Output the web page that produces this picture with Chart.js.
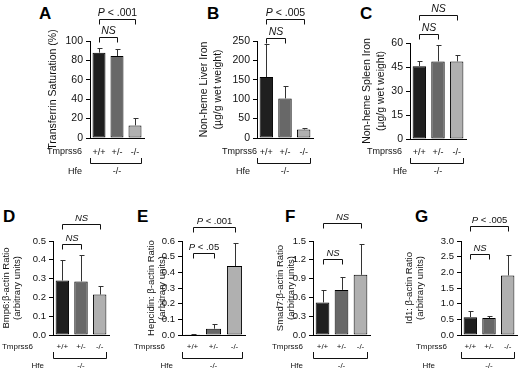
<!DOCTYPE html>
<html lang="en">
<head>
<meta charset="UTF-8">
<title>Tmprss6 / Hfe</title>
<script src="https://cdn.jsdelivr.net/npm/chart.js"></script>
<style>
  body { margin: 0; background: #fff; width: 520px; height: 374px; position: relative; overflow: hidden; }
  canvas { position: absolute; }
  .letra { position: absolute; font: bold 17px "Liberation Sans", Arial, sans-serif; line-height: 17px; color: #000; }
</style>
</head>
<body>
<div class="letra" style="left:39px;top:5px">A</div>
<div class="letra" style="left:207px;top:5px">B</div>
<div class="letra" style="left:360px;top:5px">C</div>
<div class="letra" style="left:3px;top:208px">D</div>
<div class="letra" style="left:137px;top:208px">E</div>
<div class="letra" style="left:285px;top:208px">F</div>
<div class="letra" style="left:415px;top:208px">G</div>

<canvas id="cA"></canvas>
<canvas id="cB"></canvas>
<canvas id="cC"></canvas>
<canvas id="cD"></canvas>
<canvas id="cE"></canvas>
<canvas id="cF"></canvas>
<canvas id="cG"></canvas>

<script>
// ---- dados ----
const genotipos = ['+/+', '+/-', '-/-'];
const rotuloTmprss6 = 'Tmprss6';
const rotuloHfe = 'Hfe';
const genotipoHfe = '-/-';

const satTransf = [88, 84.5, 13];
const satTransfDP = [4.5, 7.5, 7.5];
const sigSatTransf = ['P < .001', 'NS'];

const ferroFigado = [157, 102, 22];
const ferroFigadoDP = [85, 33, 3];
const sigFerroFigado = ['P < .005', 'NS'];

const ferroBaco = [45.5, 48.5, 48.5];
const ferroBacoDP = [3, 10, 4];
const sigFerroBaco = ['NS', 'NS'];

const bmp6 = [0.29, 0.285, 0.215];
const bmp6DP = [0.11, 0.14, 0.045];
const sigBmp6 = ['NS', 'NS'];

const hepcidina = [0.005, 0.04, 0.44];
const hepcidinaDP = [0.004, 0.028, 0.15];
const sigHepcidina = ['P < .001', 'P < .05'];

const smad7 = [0.52, 0.72, 0.96];
const smad7DP = [0.2, 0.2, 0.49];
const sigSmad7 = ['NS', 'NS'];

const id1 = [0.57, 0.54, 1.9];
const id1DP = [0.19, 0.08, 0.65];
const sigId1 = ['P < .005', 'NS'];

const coresBarras = ['#1f1f1f', '#686868', '#b0b0b0'];
const fam = '"Liberation Sans", Arial, sans-serif';

// caixa = [x, y, w, h] da tela; area = [esq, dir, topo, base] do grafico (coords da pagina)
const paineis = [
  { id: 'cA', caixa: [0, 0, 170, 185], area: [90, 144, 41, 138], titulo: ['Transferrin Saturation (%)'], tituloX: 53,
    valores: satTransf, dp: satTransfDP, max: 100, passo: 20, casas: 0, sig: sigSatTransf, sigY: [-22, -4],
    tmpX: 82, hfeX: 82, fonte: 10.5, linha: 14, gen: [14, 20, 25, 34] },
  { id: 'cB', caixa: [170, 0, 170, 185], area: [257, 313, 41, 138], titulo: ['Non-heme Liver Iron', '(µg/g wet weight)'], tituloX: 204,
    valores: ferroFigado, dp: ferroFigadoDP, max: 250, passo: 50, casas: 0, sig: sigFerroFigado, sigY: [-22, -3],
    tmpX: 87, hfeX: 80, fonte: 10.5, linha: 14, gen: [14, 20, 25, 34] },
  { id: 'cC', caixa: [340, 0, 180, 185], area: [410, 466, 43, 139], titulo: ['Non-heme Spleen Iron', '(µg/g wet weight)'], tituloX: 367,
    valores: ferroBaco, dp: ferroBacoDP, max: 60, passo: 15, casas: 0, sig: sigFerroBaco, sigY: [-28, -9],
    tmpX: 62, hfeX: 67, fonte: 10.5, linha: 14, gen: [13, 19, 24, 33] },
  { id: 'cD', caixa: [0, 190, 130, 184], area: [53, 109, 241, 335], titulo: ['Bmp6:β-actin Ratio', '(arbitrary units)'], tituloX: 6,
    valores: bmp6, dp: bmp6DP, max: 0.5, passo: 0.1, casas: 1, sig: sigBmp6, sigY: [-17, 3],
    tmpX: 33, hfeX: 44, fonte: 9.5, linha: 11, gen: [12, 17, 23, 31] },
  { id: 'cE', caixa: [130, 190, 130, 184], area: [182, 245, 241, 335], titulo: ['Hepcidin: β-actin Ratio', '(arbitrary units)'], tituloX: 151,
    valores: hepcidina, dp: hepcidinaDP, max: 0.6, passo: 0.1, casas: 1, sig: sigHepcidina, sigY: [-14, 12],
    tmpX: 35, hfeX: 43, fonte: 9.5, linha: 11, gen: [12, 17, 23, 31] },
  { id: 'cF', caixa: [260, 190, 130, 184], area: [313, 370, 241, 335], titulo: ['Smad7:β-actin Ratio', '(arbitrary units)'], tituloX: 280,
    valores: smad7, dp: smad7DP, max: 1.5, passo: 0.3, casas: 1, sig: sigSmad7, sigY: [-18, 18],
    tmpX: 43, hfeX: 43, fonte: 9.5, linha: 11, gen: [12, 17, 23, 31] },
  { id: 'cG', caixa: [390, 190, 130, 184], area: [461, 517, 241, 335], titulo: ['Id1: β-actin Ratio', '(arbitrary units)'], tituloX: 409,
    valores: id1, dp: id1DP, max: 3.0, passo: 0.5, casas: 1, sig: sigId1, sigY: [-15, 13],
    tmpX: 57, hfeX: 45, fonte: 9.5, linha: 11, gen: [12, 17, 23, 31] }
];

function textoSig(ctx, txt, cx, cy, tam) {
  ctx.textBaseline = 'middle';
  ctx.textAlign = 'left';
  ctx.fillStyle = '#111';
  if (txt.charAt(0) !== 'P') {
    ctx.font = `italic ${tam}px ${fam}`;
    const w = ctx.measureText(txt).width;
    ctx.fillText(txt, cx - w / 2, cy);
    return;
  }
  const resto = txt.slice(1);
  ctx.font = `italic ${tam}px ${fam}`;
  const w1 = ctx.measureText('P').width;
  ctx.font = `${tam}px ${fam}`;
  const w2 = ctx.measureText(resto).width;
  const x = cx - (w1 + w2) / 2;
  ctx.font = `italic ${tam}px ${fam}`;
  ctx.fillText('P', x, cy);
  ctx.font = `${tam}px ${fam}`;
  ctx.fillText(resto, x + w1, cy);
}

const extras = {
  id: 'extras',
  afterDatasetsDraw(chart, args, opts) {
    const ctx = chart.ctx;
    const y = chart.scales.y;
    const ds = chart.data.datasets[0];
    const meta = chart.getDatasetMeta(0);
    ctx.save();
    ctx.strokeStyle = '#333';
    ctx.lineWidth = 1;
    meta.data.forEach((bar, i) => {
      const yTopo = Math.round(y.getPixelForValue(ds.data[i] + opts.dp[i])) + 0.5;
      const x = Math.round(bar.x) + 0.5;
      ctx.beginPath();
      ctx.moveTo(x, bar.y);
      ctx.lineTo(x, yTopo);
      ctx.moveTo(x - 2, yTopo);
      ctx.lineTo(x + 3, yTopo);
      ctx.stroke();
    });
    ctx.restore();
  },
  afterDraw(chart, args, opts) {
    const ctx = chart.ctx;
    const area = chart.chartArea;
    const meta = chart.getDatasetMeta(0);
    const xs = meta.data.map(b => b.x);
    ctx.save();
    ctx.strokeStyle = '#111';
    ctx.lineWidth = 1;
    // colchetes de significancia
    const pares = [[0, 2], [0, 1]];
    pares.forEach((p, k) => {
      const yl = Math.round(area.top + opts.sigY[k]) + 0.5;
      const x1 = Math.round(xs[p[0]]) + 0.5, x2 = Math.round(xs[p[1]]) + 0.5;
      ctx.beginPath();
      ctx.moveTo(x1, yl + 5);
      ctx.lineTo(x1, yl);
      ctx.lineTo(x2, yl);
      ctx.lineTo(x2, yl + 5);
      ctx.stroke();
      textoSig(ctx, opts.sig[k], (x1 + x2) / 2, yl - 6, opts.fonte);
    });
    // genotipos
    const g = opts.gen;
    ctx.fillStyle = '#111';
    ctx.font = `${opts.fonte - 1.5}px ${fam}`;
    ctx.textBaseline = 'middle';
    ctx.textAlign = 'right';
    ctx.fillText(rotuloTmprss6, opts.tmpX, area.bottom + g[0]);
    ctx.fillText(rotuloHfe, opts.hfeX, area.bottom + g[3]);
    ctx.textAlign = 'center';
    ctx.fillText(genotipoHfe, xs[1], area.bottom + g[3]);
    const bx1 = Math.round(area.left) + 0.5;
    const bx2 = Math.round(meta.data[2].x + meta.data[2].width / 2) + 0.5;
    const by = Math.round(area.bottom + g[2]) + 0.5;
    ctx.beginPath();
    ctx.moveTo(bx1, area.bottom + g[1]);
    ctx.lineTo(bx1, by);
    ctx.lineTo(bx2, by);
    ctx.lineTo(bx2, area.bottom + g[1]);
    ctx.stroke();
    ctx.restore();
  }
};

paineis.forEach(p => {
  const [cx, cy, cw, ch] = p.caixa;
  const [esq, dir, topo, base] = p.area;
  const cv = document.getElementById(p.id);
  cv.width = cw;
  cv.height = ch;
  cv.style.left = cx + 'px';
  cv.style.top = cy + 'px';
  cv.style.width = cw + 'px';
  cv.style.height = ch + 'px';

  new Chart(cv, {
    type: 'bar',
    data: {
      labels: genotipos,
      datasets: [{
        data: p.valores,
        backgroundColor: coresBarras,
        borderColor: '#000',
        borderWidth: 1,
        borderSkipped: false,
        categoryPercentage: 1,
        barPercentage: 0.72
      }]
    },
    options: {
      responsive: false,
      animation: false,
      devicePixelRatio: 1,
      layout: { padding: { left: 0, bottom: 0, top: topo - cy, right: cx + cw - dir } },
      plugins: {
        legend: { display: false },
        tooltip: { enabled: false },
        extras: { dp: p.dp, sig: p.sig, sigY: p.sigY, fonte: p.fonte, tmpX: p.tmpX, hfeX: p.hfeX, gen: p.gen }
      },
      scales: {
        x: {
          grid: { display: false, drawTicks: false },
          border: { display: true, color: '#000', width: 1 },
          ticks: {
            color: '#111',
            font: { family: fam, size: p.fonte - 1.5 },
            padding: p.gen[0] - 5,
            maxRotation: 0,
            minRotation: 0,
            autoSkip: false
          },
          afterFit(s) { s.height = cy + ch - base; }
        },
        y: {
          min: 0,
          max: p.max,
          ticks: {
            stepSize: p.passo,
            color: '#111',
            padding: 3,
            font: { family: fam, size: p.fonte },
            callback: v => Number(v).toFixed(p.casas)
          },
          grid: { drawOnChartArea: false, drawTicks: true, tickLength: 4, color: '#000' },
          border: { display: true, color: '#000', width: 1 },
          title: {
            display: true,
            text: p.titulo,
            color: '#111',
            font: { family: fam, size: p.fonte, lineHeight: p.linha / p.fonte },
            padding: { top: p.tituloX - cx - p.linha / 2, bottom: 0 }
          },
          afterFit(s) { s.width = esq - cx; }
        }
      }
    },
    plugins: [extras]
  });
});
</script>
</body>
</html>
